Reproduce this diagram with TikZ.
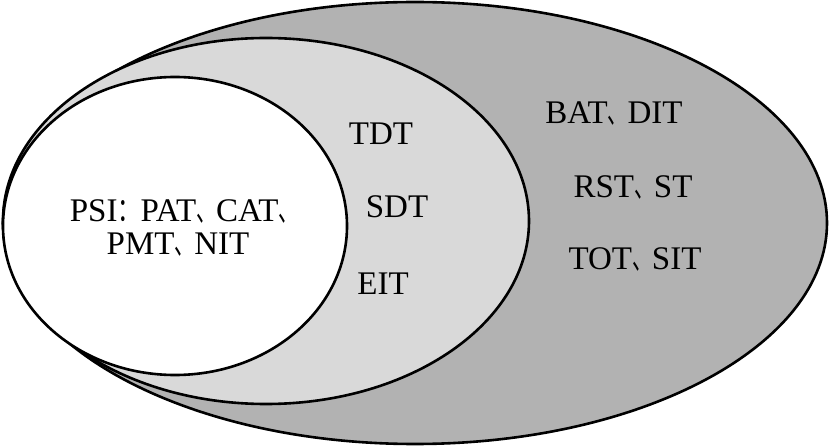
\documentclass[tikz,border=0pt]{standalone}
\usepackage{fontspec}
\setmainfont{Liberation Serif}
\newfontfamily\cjk{Noto Sans CJK SC}
\usepackage{graphicx}
\usepackage{tikz}
\newcommand{\dun}{{\cjk\scalebox{0.6}[1]{、}}}
\newcommand{\mh}{{\cjk\scalebox{0.7}[1]{：}}}
\definecolor{ringdark}{gray}{0.70}
\definecolor{ringpale}{gray}{0.85}

\begin{document}
\begin{tikzpicture}[x=1pt,y=-1pt,
 ring/.style={draw=black,line width=2.6pt},
 lbl/.style={anchor=base,inner sep=0pt,font=\fontsize{33}{38}\selectfont}]
 \useasboundingbox (0,0) rectangle (830,446);
 \draw[ring,fill=ringdark] (415,223) ellipse [x radius=412,y radius=221];
 \draw[ring,fill=ringpale] (266,221) ellipse [x radius=263,y radius=183];
 \draw[ring,fill=white] (175,226) ellipse [x radius=172,y radius=149];
 \node[lbl] (psia) at (184,222) {PSI\mh PAT\dun CAT\dun};
 \node[lbl] (psib) at (178,255) {PMT\dun NIT};
 \node[lbl] (tdt) at (381,145) {TDT};
 \node[lbl] (sdt) at (397,218) {SDT};
 \node[lbl] (eit) at (383,295) {EIT};
 \node[lbl] (bat) at (614,124) {BAT\dun DIT};
 \node[lbl] (rst) at (633,198) {RST\dun ST};
 \node[lbl] (tot) at (635,270) {TOT\dun SIT};
\end{tikzpicture}
\end{document}
